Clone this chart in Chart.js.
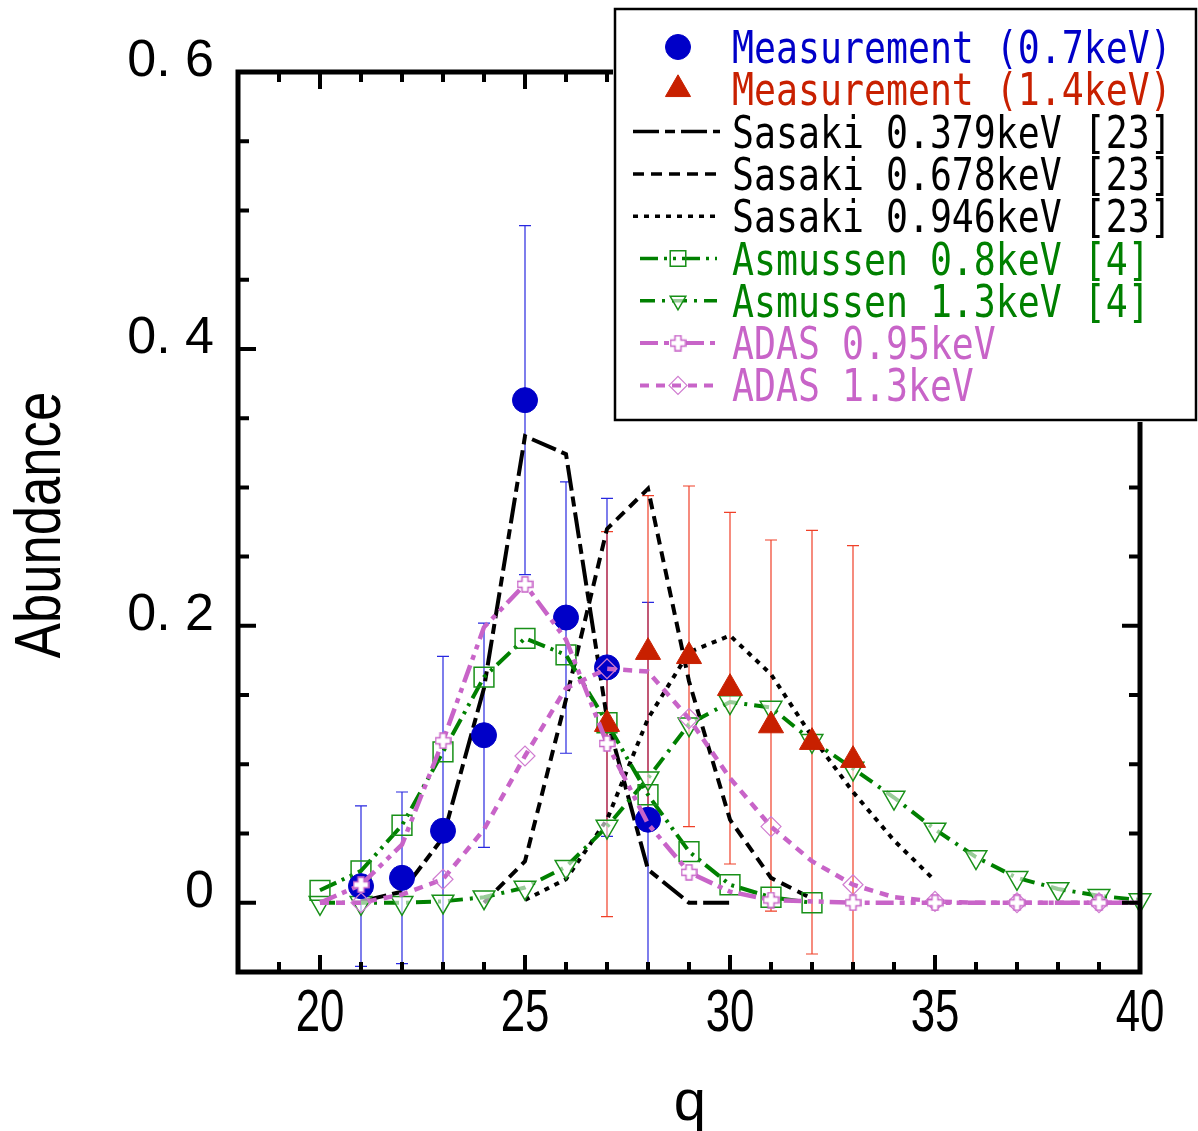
<!DOCTYPE html>
<html>
<head>
<meta charset="utf-8">
<title>Charge state abundance</title>
<style>
  body { margin: 0; background: #fff; }
  canvas { display: block; }
</style>
</head>
<body>
<canvas id="chart" width="1198" height="1131"></canvas>

<script src="https://cdn.jsdelivr.net/npm/chart.js"></script>
<script>
// measured abundances (value, +/- error)
const qMeas07 = [21, 22, 23, 24, 25, 26, 27, 28];
const abMeas07 = [0.012, 0.018, 0.052, 0.121, 0.363, 0.206, 0.170, 0.060];
const errMeas07 = [0.058, 0.062, 0.126, 0.081, 0.126, 0.098, 0.122, 0.157];

const qMeas14 = [27, 28, 29, 30, 31, 32, 33];
const abMeas14 = [0.129, 0.181, 0.178, 0.155, 0.128, 0.116, 0.103];
const errMeas14 = [0.139, 0.113, 0.123, 0.127, 0.134, 0.153, 0.155];

// calculated distributions
const qSasaki379 = [21, 22, 23, 24, 25, 26, 27, 28, 29, 30];
const abSasaki379 = [0.001, 0.008, 0.047, 0.155, 0.337, 0.324, 0.133, 0.024, 0.0, 0.0];

const qSasaki678 = [24, 25, 26, 27, 28, 29, 30, 31, 32];
const abSasaki678 = [0.0, 0.030, 0.147, 0.270, 0.299, 0.160, 0.060, 0.018, 0.003];

const qSasaki946 = [25, 26, 27, 28, 29, 30, 31, 32, 33, 34, 35];
const abSasaki946 = [0.002, 0.017, 0.060, 0.133, 0.181, 0.193, 0.165, 0.120, 0.080, 0.045, 0.016];

const qAsm08 = [20, 21, 22, 23, 24, 25, 26, 27, 28, 29, 30, 31, 32];
const abAsm08 = [0.009, 0.023, 0.056, 0.109, 0.163, 0.191, 0.179, 0.130, 0.078, 0.037, 0.013, 0.004, 0.0];

const qAsm13 = [20, 21, 22, 23, 24, 25, 26, 27, 28, 29, 30, 31, 32, 33, 34, 35, 36, 37, 38, 39, 40];
const abAsm13 = [0.0, 0.0, 0.0, 0.001, 0.004, 0.011, 0.026, 0.055, 0.090, 0.129, 0.145, 0.141, 0.117,
                 0.097, 0.076, 0.053, 0.033, 0.018, 0.010, 0.005, 0.002];

const qAdas = [20, 21, 22, 23, 24, 25, 26, 27, 28, 29, 30, 31, 32, 33, 34, 35, 36, 37, 38, 39, 40];
const abAdas095 = [0.0, 0.013, 0.042, 0.117, 0.199, 0.230, 0.190, 0.115, 0.057, 0.022, 0.008, 0.002,
                   0.001, 0.0, 0.0, 0.0, 0.0, 0.0, 0.0, 0.0, 0.0];
const abAdas13 = [0.0, 0.0, 0.006, 0.017, 0.053, 0.106, 0.155, 0.169, 0.167, 0.133, 0.090, 0.055,
                  0.030, 0.013, 0.004, 0.001, 0.0, 0.0, 0.0, 0.0, 0.0];

const xTickValues = [20, 25, 30, 35, 40];
const yTickValues = [0, 0.2, 0.4, 0.6];
const yTickLabels = ['0', '0. 2', '0. 4', '0. 6'];
const xTitle = 'q';
const yTitle = 'Abundance';

const BLUE = '#0000c8';
const RED = '#c82000';
const GREEN = '#008000';
const PINK = '#c864c8';

function pts(qs, vals) {
  return qs.map((q, i) => ({ x: q, y: vals[i] }));
}

// outlined plus symbol with white fill
function makePlus(size, arm, color) {
  const c = document.createElement('canvas');
  c.width = size; c.height = size;
  const g = c.getContext('2d');
  const m = size / 2, h = arm / 2, e = size / 2 - 1;
  g.beginPath();
  g.moveTo(m - h, m - e); g.lineTo(m + h, m - e); g.lineTo(m + h, m - h);
  g.lineTo(m + e, m - h); g.lineTo(m + e, m + h); g.lineTo(m + h, m + h);
  g.lineTo(m + h, m + e); g.lineTo(m - h, m + e); g.lineTo(m - h, m + h);
  g.lineTo(m - e, m + h); g.lineTo(m - e, m - h); g.lineTo(m - h, m - h);
  g.closePath();
  g.fillStyle = '#fff';
  g.fill();
  g.lineWidth = 1.5;
  g.strokeStyle = color;
  g.stroke();
  return c;
}
const plusImg = makePlus(17, 6, PINK);

// ADAS symbols only on odd q
const oddOnly = r => ctx => (qAdas[ctx.dataIndex] % 2 === 1 ? r : 0);

const datasets = [
  {
    label: 'ADAS 0.95keV', data: pts(qAdas, abAdas095), showLine: true,
    borderColor: PINK, borderWidth: 4.5, borderDash: [18, 6, 5, 6, 5, 6],
    pointStyle: plusImg, pointRadius: oddOnly(9), legendRadius: 9,
    pointBackgroundColor: '#fff', pointBorderColor: PINK
  },
  {
    label: 'ADAS 1.3keV', data: pts(qAdas, abAdas13), showLine: true,
    borderColor: PINK, borderWidth: 4.5, borderDash: [9, 7],
    pointStyle: 'rectRot', pointRadius: oddOnly(10), legendRadius: 9,
    pointBackgroundColor: 'rgba(0,0,0,0)', pointBorderColor: '#d07cd0', pointBorderWidth: 1.2
  },
  {
    label: 'Measurement (0.7keV)', data: pts(qMeas07, abMeas07), showLine: false,
    borderColor: BLUE, pointStyle: 'circle', pointRadius: 12.5, legendRadius: 12.5,
    pointBackgroundColor: BLUE, pointBorderColor: BLUE, pointBorderWidth: 1,
    errors: errMeas07, errColor: '#2828e0'
  },
  {
    label: 'Measurement (1.4keV)', data: pts(qMeas14, abMeas14), showLine: false,
    borderColor: RED, pointStyle: 'triangle', pointRadius: 14.5, legendRadius: 14.5,
    pointBackgroundColor: RED, pointBorderColor: RED, pointBorderWidth: 1,
    errors: errMeas14, errColor: '#f04028'
  },
  {
    label: 'Asmussen 0.8keV [4]', data: pts(qAsm08, abAsm08), showLine: true,
    borderColor: GREEN, borderWidth: 4, borderDash: [18, 6, 3, 6, 3, 6],
    pointStyle: 'rect', pointRadius: 14, legendRadius: 11,
    pointBackgroundColor: 'rgba(0,0,0,0)', pointBorderColor: '#189018', pointBorderWidth: 1.5
  },
  {
    label: 'Asmussen 1.3keV [4]', data: pts(qAsm13, abAsm13), showLine: true, clip: false,
    borderColor: GREEN, borderWidth: 4, borderDash: [15, 7, 3, 7],
    pointStyle: 'triangle', pointRotation: 180, pointRadius: 12.5, legendRadius: 9,
    pointBackgroundColor: 'rgba(255,255,255,0.6)', pointBorderColor: '#189018', pointBorderWidth: 1.5
  },
  {
    label: 'Sasaki 0.379keV [23]', data: pts(qSasaki379, abSasaki379), showLine: true,
    borderColor: '#000', borderWidth: 4, borderDash: [26, 6, 10, 6], pointRadius: 0
  },
  {
    label: 'Sasaki 0.678keV [23]', data: pts(qSasaki678, abSasaki678), showLine: true,
    borderColor: '#000', borderWidth: 4, borderDash: [11, 7], pointRadius: 0
  },
  {
    label: 'Sasaki 0.946keV [23]', data: pts(qSasaki946, abSasaki946), showLine: true,
    borderColor: '#000', borderWidth: 4, borderDash: [5, 6], pointRadius: 0
  }
];

// row order of the key box
const legendOrder = [2, 3, 6, 7, 8, 4, 5, 0, 1];

// vertical error bars with caps, clipped to the plot frame
const errorBars = {
  id: 'errorBars',
  beforeDatasetsDraw(chart) {
    const { ctx, chartArea: a, scales: { x, y } } = chart;
    ctx.save();
    ctx.beginPath();
    ctx.rect(a.left, a.top, a.width, a.height);
    ctx.clip();
    chart.data.datasets.forEach(ds => {
      if (!ds.errors) return;
      ctx.strokeStyle = ds.errColor;
      ctx.lineWidth = 1.2;
      ds.data.forEach((p, i) => {
        const px = x.getPixelForValue(p.x);
        const top = y.getPixelForValue(p.y + ds.errors[i]);
        const bot = y.getPixelForValue(p.y - ds.errors[i]);
        ctx.beginPath();
        ctx.moveTo(px, top); ctx.lineTo(px, bot);
        ctx.moveTo(px - 6, top); ctx.lineTo(px + 6, top);
        ctx.moveTo(px - 6, bot); ctx.lineTo(px + 6, bot);
        ctx.stroke();
      });
    });
    ctx.restore();
  }
};

// boxed frame with inward ticks on all four sides
const frameTicks = {
  id: 'frameTicks',
  afterDatasetsDraw(chart) {
    const { ctx, chartArea: a, scales: { x, y } } = chart;
    ctx.save();
    ctx.strokeStyle = '#000';
    ctx.lineWidth = 4;
    ctx.beginPath();
    for (let q = 19; q <= 39; q++) {
      const px = x.getPixelForValue(q);
      const len = q % 5 === 0 ? 17 : 10;
      ctx.moveTo(px, a.bottom); ctx.lineTo(px, a.bottom - len);
      ctx.moveTo(px, a.top); ctx.lineTo(px, a.top + len);
    }
    for (let k = 1; k < 13; k++) {
      const v = -0.05 + k * 0.05;
      const py = y.getPixelForValue(v);
      const major = k % 4 === 1;
      const len = major ? 18 : 11;
      ctx.moveTo(a.left, py); ctx.lineTo(a.left + len, py);
      ctx.moveTo(a.right, py); ctx.lineTo(a.right - len, py);
    }
    ctx.stroke();
    ctx.lineWidth = 5;
    ctx.strokeRect(a.left, a.top, a.width, a.height);
    ctx.restore();
  }
};

// condensed x tick labels and axis titles
const axisText = {
  id: 'axisText',
  afterDraw(chart) {
    const { ctx, chartArea: a, scales: { x } } = chart;
    const fam = '"Liberation Sans", Arial, sans-serif';
    ctx.save();
    ctx.fillStyle = '#000';
    ctx.textAlign = 'center';
    ctx.textBaseline = 'alphabetic';
    ctx.font = '60px ' + fam;
    xTickValues.forEach(v => {
      ctx.save();
      ctx.translate(x.getPixelForValue(v), a.bottom + 59);
      ctx.scale(0.73, 1);
      ctx.fillText(String(v), 0, 0);
      ctx.restore();
    });
    ctx.font = '58px ' + fam;
    ctx.fillText(xTitle, (a.left + a.right) / 2 + 1, 1120);
    ctx.save();
    ctx.translate(60, 525);
    ctx.rotate(-Math.PI / 2);
    ctx.scale(0.81, 1);
    ctx.font = '65px ' + fam;
    ctx.fillText(yTitle, 0, 0);
    ctx.restore();
    ctx.restore();
  }
};

// key box in the upper right corner
const legendBox = {
  id: 'legendBox',
  afterDraw(chart) {
    const ctx = chart.ctx;
    ctx.save();
    ctx.fillStyle = '#fff';
    ctx.fillRect(613, 7, 585, 415);
    ctx.lineWidth = 2.5;
    ctx.strokeStyle = '#000';
    ctx.strokeRect(615, 9, 581, 411);

    legendOrder.forEach((idx, row) => {
      const ds = chart.data.datasets[idx];
      const cy = 47 + row * 42.3;
      const hasMarker = ds.pointStyle && ds.legendRadius;
      if (ds.showLine) {
        ctx.save();
        ctx.strokeStyle = ds.borderColor;
        ctx.lineWidth = ds.borderWidth - 0.5;
        ctx.setLineDash(ds.borderDash || []);
        ctx.beginPath();
        if (hasMarker) { ctx.moveTo(640, cy); ctx.lineTo(717, cy); }
        else { ctx.moveTo(633, cy); ctx.lineTo(720, cy); }
        ctx.stroke();
        ctx.restore();
      }
      if (hasMarker) {
        ctx.save();
        ctx.fillStyle = ds.pointBackgroundColor;
        ctx.strokeStyle = ds.pointBorderColor;
        ctx.lineWidth = ds.pointBorderWidth || 1;
        Chart.helpers.drawPoint(ctx, {
          pointStyle: ds.pointStyle, radius: ds.legendRadius,
          rotation: ds.pointRotation || 0, borderWidth: ds.pointBorderWidth || 1
        }, 678, cy);
        ctx.restore();
      }
      ctx.save();
      ctx.translate(732, cy + 16);
      ctx.scale(0.83, 1);
      ctx.font = '44px "DejaVu Sans Mono", "Liberation Mono", monospace';
      ctx.fillStyle = ds.borderColor;
      ctx.textBaseline = 'alphabetic';
      ctx.fillText(ds.label, 0, 0);
      ctx.restore();
    });
    ctx.restore();
  }
};

const ctx = document.getElementById('chart').getContext('2d');
const chart = new Chart(ctx, {
  type: 'scatter',
  data: { datasets: datasets },
  options: {
    responsive: false,
    animation: false,
    layout: { padding: { top: 72, right: 58, bottom: 0, left: 0 } },
    plugins: { legend: { display: false }, tooltip: { enabled: false } },
    scales: {
      x: {
        type: 'linear', min: 18, max: 40,
        grid: { display: false }, border: { display: false },
        afterBuildTicks: s => { s.ticks = xTickValues.map(v => ({ value: v })); },
        afterFit: s => { s.height = 159; },
        ticks: { display: false }
      },
      y: {
        type: 'linear', min: -0.05, max: 0.6,
        grid: { display: false }, border: { display: false },
        afterBuildTicks: s => { s.ticks = yTickValues.map(v => ({ value: v })); },
        afterFit: s => { s.width = 238; },
        ticks: {
          color: '#000', padding: 16, labelOffset: -10,
          font: { family: '"Liberation Sans", Arial, sans-serif', size: 52 },
          callback: (v, i) => yTickLabels[i]
        }
      }
    }
  },
  plugins: [errorBars, frameTicks, axisText, legendBox]
});
</script>
</body>
</html>
